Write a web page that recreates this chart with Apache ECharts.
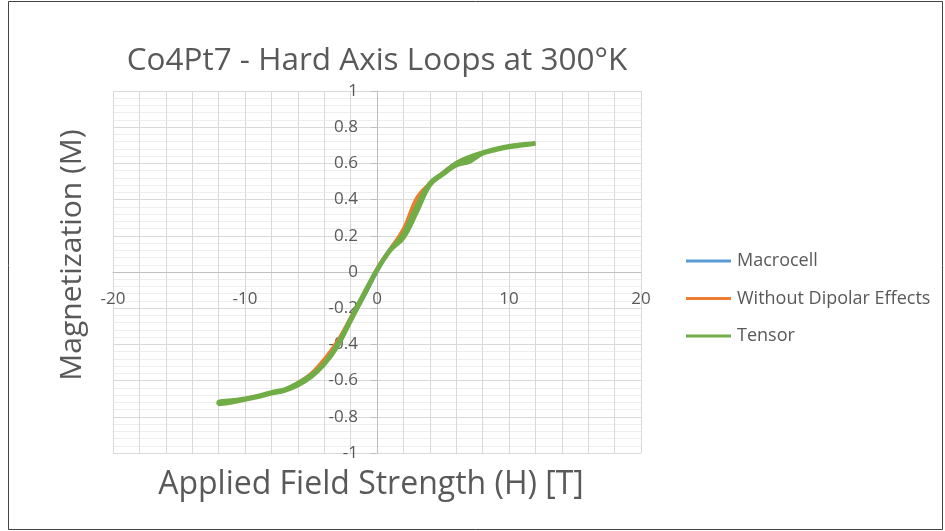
<!DOCTYPE html>
<html>
<head>
<meta charset="utf-8">
<script src="https://cdn.jsdelivr.net/npm/echarts@6/dist/echarts.min.js"></script>
<style>
html,body{margin:0;padding:0;background:#fff;}
#chart{width:945px;height:531px;}
</style>
</head>
<body>
<div id="chart"></div>
<script>
// Applied field (T): descending branch then ascending branch
const fieldDown = [12, 11, 10, 9, 8, 7, 6, 5, 4, 3, 2, 1, 0, -1, -2, -3, -4, -5, -6, -7, -8, -9, -10, -11, -12];
const fieldUp   = [-12, -11, -10, -9, -8, -7, -6, -5, -4, -3, -2, -1, 0, 1, 2, 3, 4, 5, 6, 7, 8, 9, 10, 11, 12];

const macrocellDown = [0.71, 0.705, 0.695, 0.68, 0.66, 0.635, 0.605, 0.55, 0.49, 0.40, 0.23, 0.13, 0.02, -0.12, -0.26, -0.39, -0.49, -0.565, -0.615, -0.65, -0.665, -0.685, -0.70, -0.71, -0.72];
const macrocellUp   = [-0.73, -0.715, -0.70, -0.685, -0.67, -0.655, -0.62, -0.575, -0.51, -0.41, -0.27, -0.14, 0.0, 0.12, 0.22, 0.39, 0.49, 0.545, 0.60, 0.625, 0.655, 0.675, 0.69, 0.70, 0.71];

const withoutDipolarDown = [0.71, 0.705, 0.695, 0.68, 0.66, 0.635, 0.605, 0.55, 0.49, 0.41, 0.24, 0.13, 0.02, -0.12, -0.25, -0.38, -0.48, -0.56, -0.61, -0.65, -0.665, -0.685, -0.70, -0.71, -0.72];
const withoutDipolarUp   = [-0.73, -0.715, -0.70, -0.685, -0.67, -0.655, -0.615, -0.57, -0.50, -0.40, -0.26, -0.13, 0.01, 0.13, 0.23, 0.40, 0.49, 0.545, 0.60, 0.625, 0.655, 0.675, 0.69, 0.70, 0.71];

const tensorDown = [0.71, 0.705, 0.695, 0.68, 0.66, 0.635, 0.60, 0.545, 0.49, 0.36, 0.21, 0.12, 0.01, -0.13, -0.27, -0.41, -0.51, -0.58, -0.625, -0.655, -0.67, -0.69, -0.705, -0.72, -0.73];
const tensorUp   = [-0.72, -0.71, -0.70, -0.685, -0.665, -0.65, -0.615, -0.57, -0.505, -0.40, -0.26, -0.12, 0.01, 0.12, 0.19, 0.33, 0.48, 0.54, 0.59, 0.61, 0.655, 0.675, 0.69, 0.70, 0.71];

const xTicks = [-20, -10, 0, 10, 20];
const yTicks = [-1, -0.8, -0.6, -0.4, -0.2, 0, 0.2, 0.4, 0.6, 0.8, 1];

function loop(down, up) {
  const pts = [];
  for (let i = 0; i < fieldDown.length; i++) pts.push([fieldDown[i], down[i]]);
  for (let i = 0; i < fieldUp.length; i++) pts.push([fieldUp[i], up[i]]);
  return pts;
}

const FONT = '"Open Sans", "Noto Sans", sans-serif';
const TXT = '#595959';

// grid geometry
const G = {left: 113, right: 304, top: 91, bottom: 78};
const plotW = 945 - G.left - G.right;   // 528
const plotH = 531 - G.top - G.bottom;   // 362

const chart = echarts.init(document.getElementById('chart'), null, {renderer: 'canvas'});
chart.setOption({
  animation: false,
  backgroundColor: '#fff',
  textStyle: {fontFamily: FONT},
  legend: {
    orient: 'vertical', left: 686, top: 251,
    icon: 'rect', itemWidth: 45, itemHeight: 3, itemGap: 17.5,
    padding: 0,
    textStyle: {fontFamily: FONT, fontSize: 18, color: TXT, lineHeight: 20, padding: [0, 0, 0, 1]},
    data: ['Macrocell', 'Without Dipolar Effects', 'Tensor']
  },
  grid: {left: G.left, right: G.right, top: G.top, bottom: G.bottom, containLabel: false},
  xAxis: {
    type: 'value', min: xTicks[0], max: xTicks[xTicks.length - 1], interval: 10,
    position: 'bottom', offset: -plotH / 2,
    axisLine: {onZero: false, lineStyle: {color: '#bfbfbf', width: 1}},
    axisTick: {show: false},
    axisLabel: {fontFamily: FONT, fontSize: 17, color: TXT, margin: 19},
    splitLine: {show: true, lineStyle: {color: '#d9d9d9', width: 1}},
    minorTick: {show: false, splitNumber: 5},
    minorSplitLine: {show: true, lineStyle: {color: '#d9d9d9', width: 1}}
  },
  yAxis: {
    type: 'value', min: yTicks[0], max: yTicks[yTicks.length - 1], interval: 0.2,
    position: 'left', offset: -plotW / 2,
    axisLine: {show: true, onZero: false, lineStyle: {color: '#bfbfbf', width: 1}},
    axisTick: {show: true, length: 6, lineStyle: {color: '#bfbfbf'}},
    axisLabel: {fontFamily: FONT, fontSize: 17, color: TXT, margin: 19},
    splitLine: {show: true, lineStyle: {color: '#d9d9d9', width: 1}},
    minorTick: {show: false, splitNumber: 5},
    minorSplitLine: {show: true, lineStyle: {color: '#eeeeee', width: 1}}
  },
  series: [
    {name: 'Macrocell', type: 'line', data: loop(macrocellDown, macrocellUp), smooth: 0.4,
     symbol: 'none', lineStyle: {color: '#5B9BD5', width: 3}, itemStyle: {color: '#5B9BD5'}},
    {name: 'Without Dipolar Effects', type: 'line', data: loop(withoutDipolarDown, withoutDipolarUp), smooth: 0.4,
     symbol: 'none', lineStyle: {color: '#ED7D31', width: 3}, itemStyle: {color: '#ED7D31'}},
    {name: 'Tensor', type: 'line', data: loop(tensorDown, tensorUp), smooth: 0.4,
     symbol: 'none', lineStyle: {color: '#70AD47', width: 4.5}, itemStyle: {color: '#70AD47'}}
  ],
  graphic: [
    {type: 'rect', silent: true, z: 100,
     shape: {x: 8.5, y: 1.5, width: 934, height: 528},
     style: {fill: 'none', stroke: '#444', lineWidth: 1}},
    {type: 'text', silent: true, x: 377, y: 61,
     style: {text: 'Co4Pt7 - Hard Axis Loops at 300°K', fontFamily: FONT, fontSize: 31.5, fill: TXT,
             textAlign: 'center', textVerticalAlign: 'middle'}},
    {type: 'text', silent: true, x: 72, y: 255, rotation: Math.PI / 2,
     style: {text: 'Magnetization (M)', fontFamily: FONT, fontSize: 30, fill: TXT,
             textAlign: 'center', textVerticalAlign: 'middle'}},
    {type: 'text', silent: true, x: 371, y: 485,
     style: {text: 'Applied Field Strength (H) [T]', fontFamily: FONT, fontSize: 32, fill: TXT,
             textAlign: 'center', textVerticalAlign: 'middle'}}
  ]
});
</script>
</body>
</html>
